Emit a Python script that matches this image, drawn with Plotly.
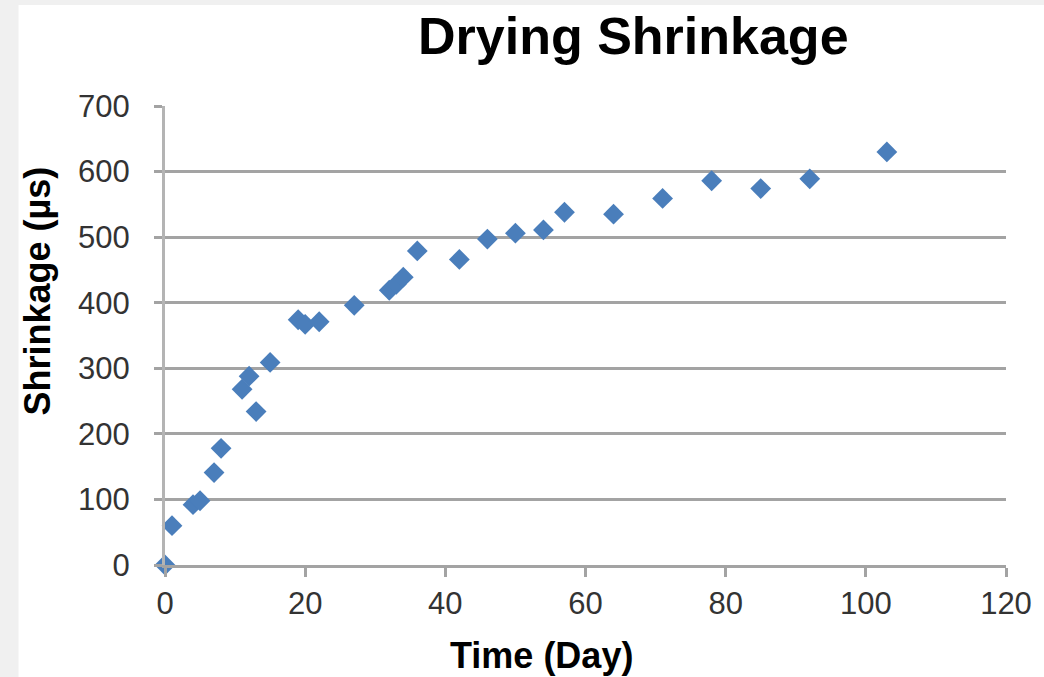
import plotly.graph_objects as go

# Data
time_day = [0, 1, 4, 5, 7, 8, 11, 12, 13, 15, 19, 20, 22, 27, 32, 33, 34, 36,
            42, 46, 50, 54, 57, 64, 71, 78, 85, 92, 103]
shrinkage = [0, 60, 92, 98, 141, 178, 268, 288, 234, 309, 374, 367, 371, 396,
             419, 428, 439, 479, 466, 497, 506, 511, 538, 535, 559, 586, 574,
             589, 630]

x_ticks = [0, 20, 40, 60, 80, 100, 120]
y_ticks = [0, 100, 200, 300, 400, 500, 600, 700]

title_text = "Drying Shrinkage"
x_title = "Time (Day)"
y_title = "Shrinkage (µs)"

W, H = 1044, 677
L, R, T, B = 165, 35, 106, 112
pw, ph = W - L - R, H - T - B

def px_x(p):
    return (p - L) / pw

def px_y(p):
    return (H - B - p) / ph

FONT = "Liberation Sans, Arial, sans-serif"
GRID = "#a3a3a3"

fig = go.Figure()
fig.add_trace(go.Scatter(
    x=time_day, y=shrinkage, mode="markers",
    marker=dict(symbol="diamond", size=16, color="#4a7ebb", line=dict(width=0)),
    showlegend=False, cliponaxis=False,
))

fig.update_layout(
    width=W, height=H,
    margin=dict(l=L, r=R, t=T, b=B, pad=0),
    paper_bgcolor="#f0f0f0",
    plot_bgcolor="white",
    font=dict(family=FONT, color="#333333"),
    xaxis=dict(
        range=[0, 120], tickvals=x_ticks, ticktext=[str(v) for v in x_ticks],
        showgrid=False, zeroline=False,
        showline=True, linecolor=GRID, linewidth=3,
        ticks="outside", ticklen=9, tickwidth=3, tickcolor=GRID,
        tickfont=dict(size=31, color="#333333", family=FONT),
        ticklabelstandoff=0,
    ),
    yaxis=dict(
        range=[0, 700], tickvals=y_ticks, ticktext=[str(v) for v in y_ticks],
        showgrid=True, gridcolor=GRID, gridwidth=3,
        zeroline=False,
        showline=True, linecolor="#b4b4b4", linewidth=3,
        ticks="outside", ticklen=8, tickwidth=3, tickcolor=GRID,
        tickfont=dict(size=31, color="#333333", family=FONT),
        ticklabelstandoff=18,
    ),
    shapes=[dict(
        type="rect", xref="paper", yref="paper", layer="below",
        x0=px_x(18), x1=px_x(W + 10), y0=px_y(H + 10), y1=px_y(5),
        fillcolor="white", line=dict(width=0),
    )],
    annotations=[
        dict(text=f"<b>{title_text}</b>", xref="paper", yref="paper",
             x=px_x(635), y=px_y(36), xanchor="center", yanchor="middle",
             showarrow=False, font=dict(size=52, color="black", family=FONT)),
        dict(text=f"<b>{x_title}</b>", xref="paper", yref="paper",
             x=px_x(543), y=px_y(655), xanchor="center", yanchor="middle",
             showarrow=False, font=dict(size=36, color="black", family=FONT)),
        dict(text=f"<b>{y_title}</b>", xref="paper", yref="paper",
             x=px_x(37), y=px_y(291), xanchor="center", yanchor="middle",
             textangle=-90,
             showarrow=False, font=dict(size=36, color="black", family=FONT)),
    ],
)

fig.write_html("out.html")
